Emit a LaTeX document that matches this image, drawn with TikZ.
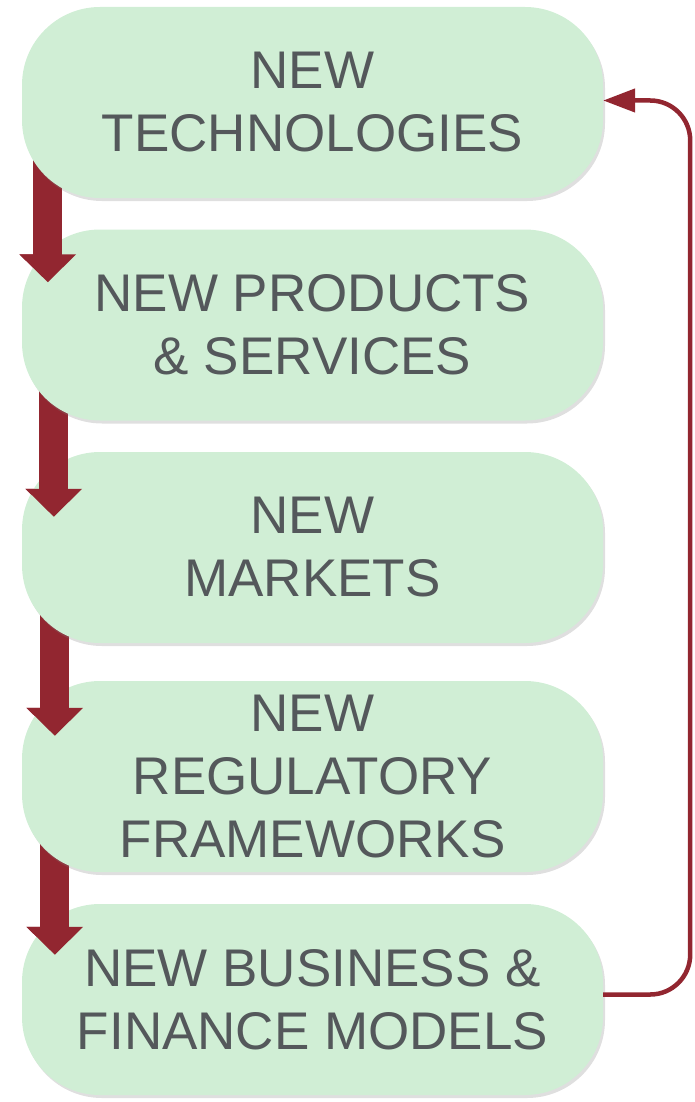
\documentclass[tikz,border=0pt]{standalone}
\usepackage{fontspec}
\setmainfont{Liberation Sans}
\usetikzlibrary{positioning,arrows.meta,shadows,backgrounds}

\definecolor{boxgreen}{HTML}{D0EED5}
\definecolor{textgray}{HTML}{54585B}
\definecolor{darkred}{HTML}{922630}

\begin{document}
\begin{tikzpicture}[node distance=222.5pt,on grid,
    block/.style={rectangle,rounded corners=78pt,fill=boxgreen,
      minimum width=581pt,minimum height=191pt,align=center,
      text=textgray,font=\fontsize{53}{63}\selectfont,
      drop shadow={shadow xshift=2pt,shadow yshift=-3pt,opacity=.25}},
    flow/.style={darkred,line width=29pt,-{Triangle[length=28pt,width=55pt]}},
    loopback/.style={darkred,line width=4.5pt,rounded corners=40pt,
      -{Triangle[length=32pt,width=23pt]}}]
  \useasboundingbox (0,0) rectangle (694pt,-1102pt);

  \node[block] (tech) at (312.5pt,-102.5pt) {NEW\\TECHNOLOGIES};
  \node[block] (prod) [below=of tech] {NEW PRODUCTS\\\& SERVICES};
  \node[block] (mark) [below=of prod] {NEW\\MARKETS};
  \node[block] (regs) [below=229pt of mark] {NEW\\REGULATORY\\FRAMEWORKS};
  \node[block] (biz) [below=223pt of regs] {NEW BUSINESS \&\\FINANCE MODELS};

  % each step arrow comes out from under one box and lands on the next
  \foreach \a/\b/\dx/\dy in {tech/prod/26/53,prod/mark/32/65,mark/regs/33/55,regs/biz/33/51}{
    \begin{scope}[on background layer]
      \draw[flow] ([xshift=\dx pt,yshift=60pt]\a.south west)
        -- ([xshift=\dx pt,yshift=-\dy pt]\b.north west);
    \end{scope}
    \draw[flow] ([xshift=\dx pt]\b.north west) -- ([xshift=\dx pt,yshift=-\dy pt]\b.north west);
  }

  % back to the top
  \coordinate (turn) at ([xshift=87pt,yshift=2pt]tech.east);
  \draw[loopback] ([yshift=5pt]biz.east) -| (turn) -- ([yshift=2pt]tech.east);
\end{tikzpicture}
\end{document}
